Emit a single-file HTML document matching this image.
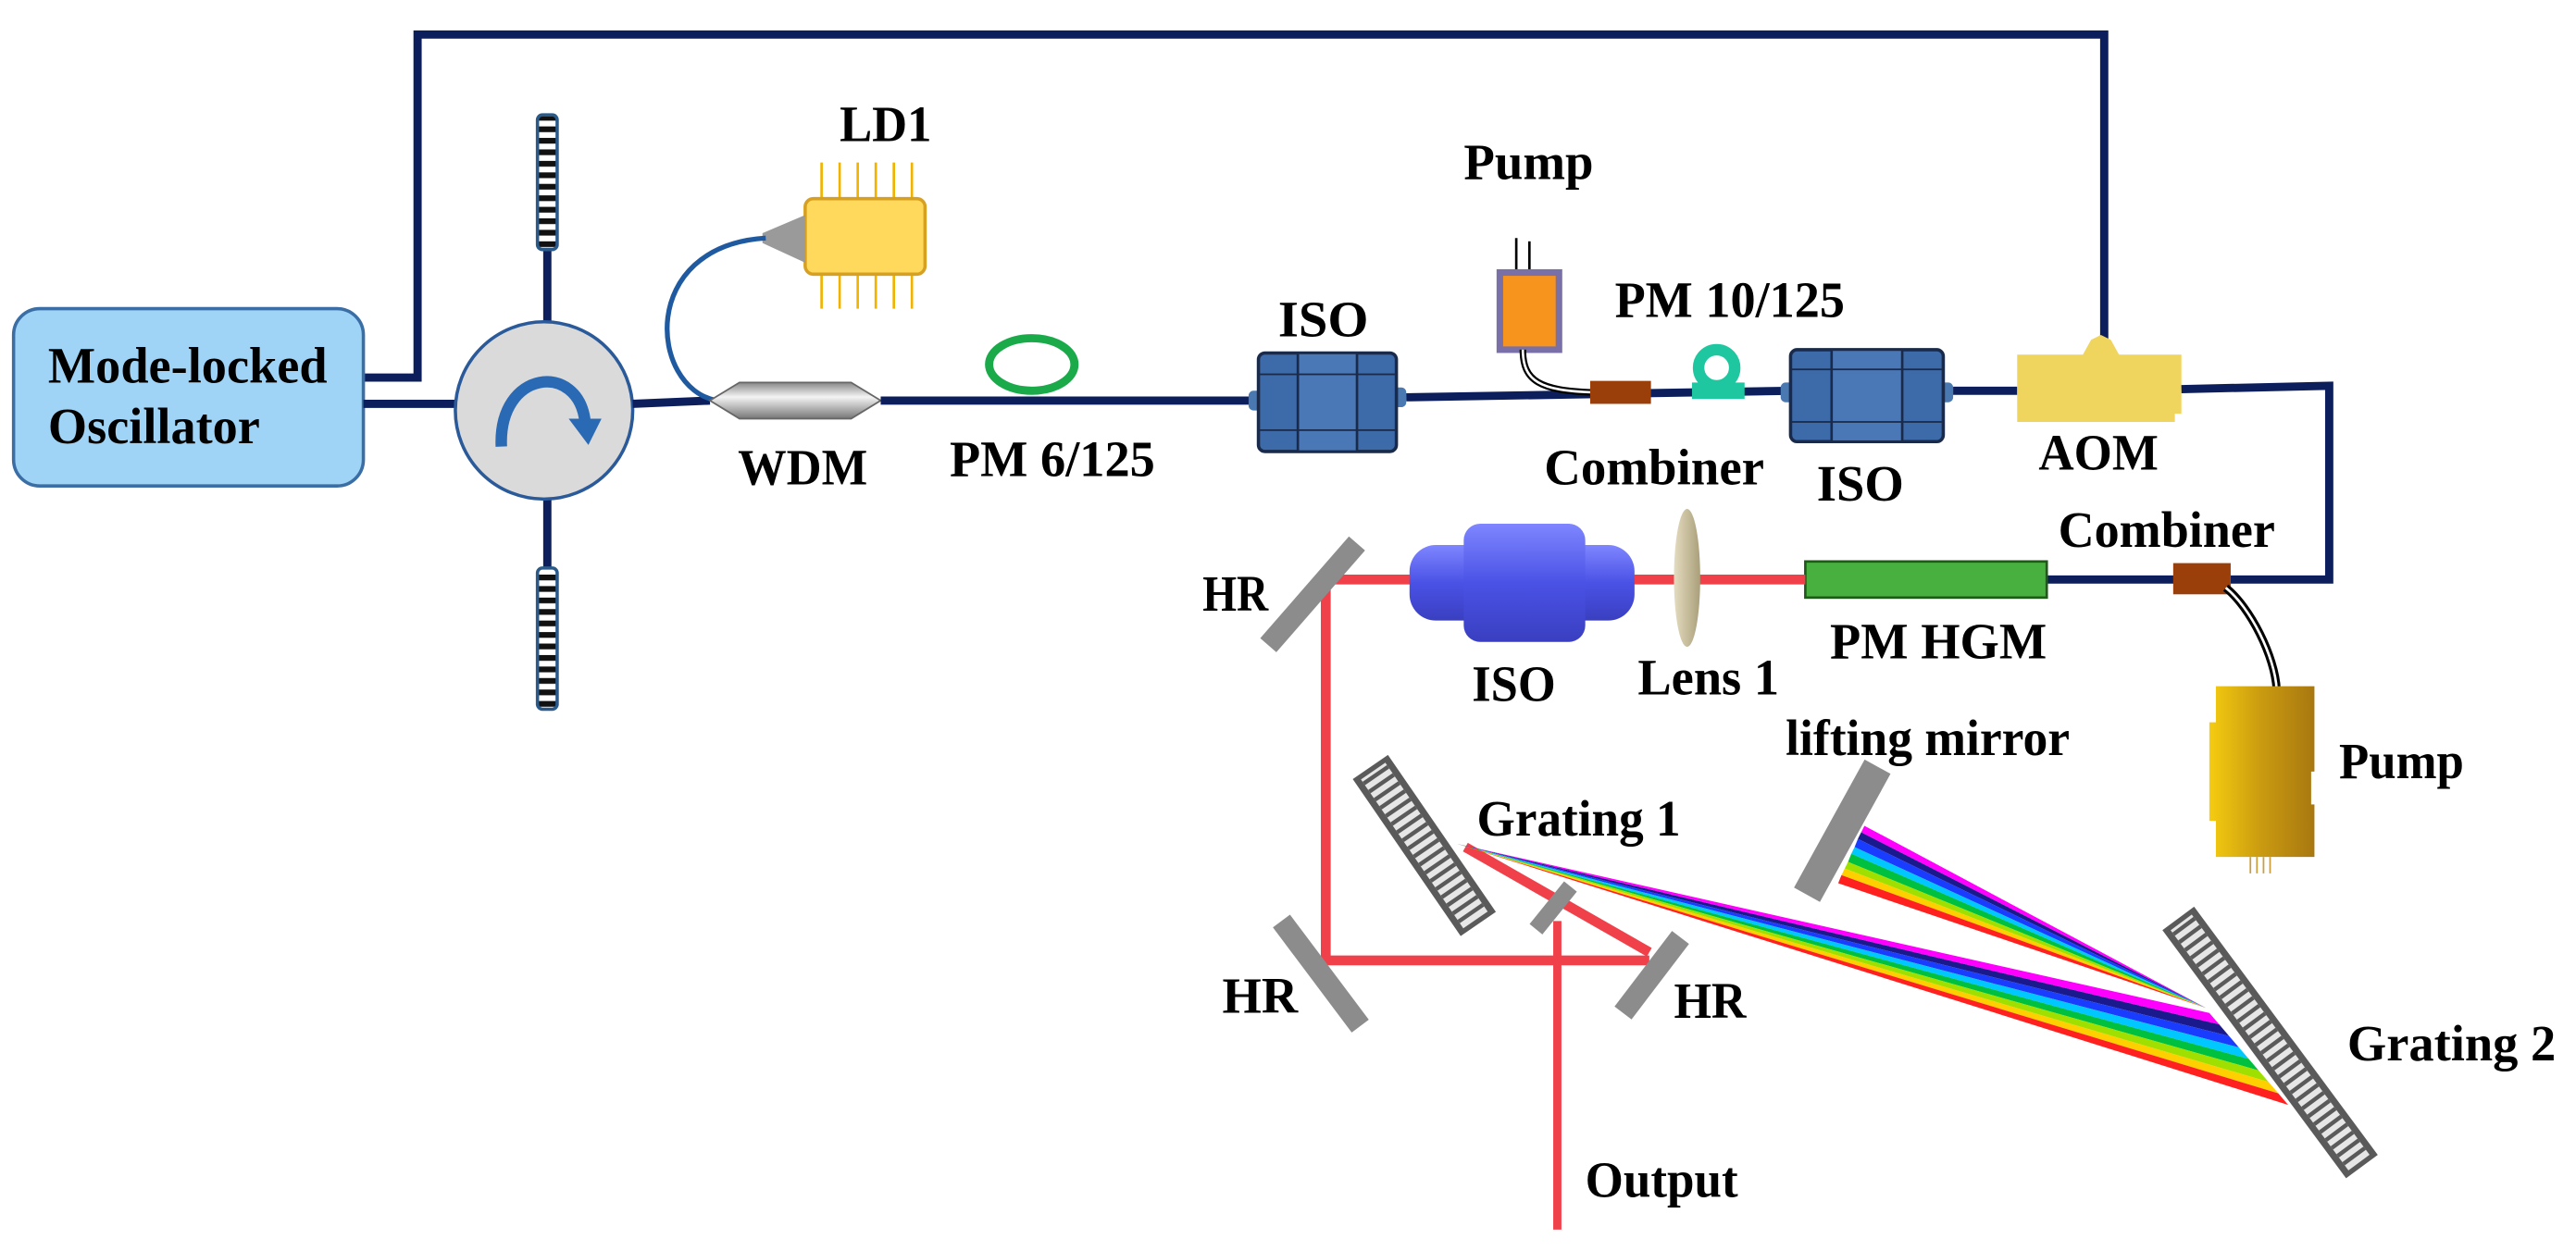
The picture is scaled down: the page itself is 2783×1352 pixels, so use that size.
<!DOCTYPE html>
<html><head><meta charset="utf-8"><style>
html,body{margin:0;padding:0;background:#fff}
svg{display:block}
svg text{font-family:"Liberation Serif","DejaVu Serif",serif;font-weight:bold;font-size:31px;fill:#000}
</style></head><body>
<svg width="2783" height="1352" viewBox="0 0 1568 762" xmlns="http://www.w3.org/2000/svg" font-family="Liberation Serif, DejaVu Serif, serif" font-weight="bold">
<defs>
<linearGradient id="wdm" x1="0" y1="0" x2="0" y2="1"><stop offset="0" stop-color="#888"/><stop offset=".4" stop-color="#f4f4f4"/><stop offset="1" stop-color="#777"/></linearGradient>
<linearGradient id="iso" x1="0" y1="0" x2="0" y2="1"><stop offset="0" stop-color="#7f86ff"/><stop offset=".5" stop-color="#4a52e6"/><stop offset="1" stop-color="#3a3fc0"/></linearGradient>
<linearGradient id="pump" x1="0" y1="0" x2="1" y2="0"><stop offset="0" stop-color="#f5cc10"/><stop offset=".5" stop-color="#c99a10"/><stop offset="1" stop-color="#a87810"/></linearGradient>
<linearGradient id="lens" x1="0" y1="0" x2="1" y2="0"><stop offset="0" stop-color="#e5dcc0"/><stop offset="1" stop-color="#a99f7a"/></linearGradient>
<pattern id="fbg" width="12" height="7" patternUnits="userSpaceOnUse"><rect width="12" height="7" fill="#fff"/><rect width="12" height="3.5" fill="#111"/></pattern>
</defs>

<path d="M221,230 H254 V21 H1281 V212" fill="none" stroke="#0c1f5c" stroke-width="5"/>
<rect x="8" y="188" width="213" height="108" rx="16" fill="#9fd4f6" stroke="#3a6ea5" stroke-width="2"/>
<text x="29" y="233" textLength="170" lengthAdjust="spacingAndGlyphs">Mode-locked</text>
<text x="29" y="270" textLength="129" lengthAdjust="spacingAndGlyphs">Oscillator</text>
<line x1="221" y1="246" x2="278" y2="246" stroke="#0c1f5c" stroke-width="5"/>
<line x1="333" y1="150" x2="333" y2="200" stroke="#0c1f5c" stroke-width="5"/>
<line x1="333" y1="300" x2="333" y2="348" stroke="#0c1f5c" stroke-width="5"/>
<rect x="327" y="70" width="12" height="82" rx="3" fill="url(#fbg)" stroke="#2a5a8a" stroke-width="2"/>
<rect x="327" y="346" width="12" height="86" rx="3" fill="url(#fbg)" stroke="#2a5a8a" stroke-width="2"/>
<circle cx="331" cy="250" r="54" fill="#dadada" stroke="#2a5a9a" stroke-width="2"/>
<path d="M305,272 C303,225 352,220 356,257" fill="none" stroke="#2a6ab5" stroke-width="7"/>
<polygon points="346,255 366,255 358,271" fill="#2a6ab5"/>
<line x1="385" y1="246" x2="432" y2="244" stroke="#0c1f5c" stroke-width="5"/>
<g stroke="#f0b400" stroke-width="1.5">
<line x1="500" y1="99" x2="500" y2="188"/><line x1="511" y1="99" x2="511" y2="188"/><line x1="522" y1="99" x2="522" y2="188"/><line x1="533" y1="99" x2="533" y2="188"/><line x1="544" y1="99" x2="544" y2="188"/><line x1="555" y1="99" x2="555" y2="188"/></g>
<rect x="490" y="121" width="73" height="46" rx="5" fill="#ffd95c" stroke="#d8a020" stroke-width="2"/>
<polygon points="490,131 490,160 464,148 464,142" fill="#9a9a9a"/>
<path d="M436,244 C395,236 388,150 466,145" fill="none" stroke="#1f5aa0" stroke-width="3"/>
<text x="511" y="86" textLength="56" lengthAdjust="spacingAndGlyphs">LD1</text>
<polygon points="432,244 450,233 518,233 536,244 518,255 450,255" fill="url(#wdm)" stroke="#666" stroke-width="1"/>
<text x="449" y="295" textLength="79" lengthAdjust="spacingAndGlyphs">WDM</text>
<path d="M536,244 H762" stroke="#0c1f5c" stroke-width="5" fill="none"/>
<ellipse cx="628" cy="222" rx="26" ry="16" fill="none" stroke="#1aaa4a" stroke-width="5"/>
<text x="578" y="290" textLength="125" lengthAdjust="spacingAndGlyphs">PM 6/125</text>
<g>
<rect x="760" y="238" width="8" height="12" rx="3" fill="#4a78b0"/>
<rect x="848" y="236" width="8" height="12" rx="3" fill="#4a78b0"/>
<rect x="766" y="215" width="84" height="60" rx="4" fill="#3d6aa8" stroke="#1a2a4a" stroke-width="2"/>
<rect x="790" y="215" width="36" height="60" fill="#4a78b6" stroke="#1a2a4a" stroke-width="1.5"/>
<rect x="766" y="228" width="84" height="34" fill="none" stroke="#1a2a4a" stroke-width="1"/>
</g>
<text x="778" y="205" textLength="55" lengthAdjust="spacingAndGlyphs">ISO</text>
<path d="M856,242 L1092,238" stroke="#0c1f5c" stroke-width="5" fill="none"/>
<line x1="923" y1="145" x2="923" y2="166" stroke="#000" stroke-width="1.5"/>
<line x1="931" y1="147" x2="931" y2="166" stroke="#000" stroke-width="1.5"/>
<rect x="913" y="166" width="36" height="47" fill="#f7941d" stroke="#7a70a8" stroke-width="4"/>
<path d="M927,213 C927,232 937,238 970,239" fill="none" stroke="#000" stroke-width="4"/>
<path d="M927,213 C927,232 937,238 970,239" fill="none" stroke="#fff" stroke-width="1.5"/>
<text x="891" y="109" textLength="79" lengthAdjust="spacingAndGlyphs">Pump</text>
<rect x="968" y="232" width="37" height="14" fill="#9b3f0a"/>
<text x="940" y="295" textLength="134" lengthAdjust="spacingAndGlyphs">Combiner</text>
<rect x="1030" y="233" width="32" height="10" fill="#1fc7a0"/>
<circle cx="1045" cy="224" r="11" fill="none" stroke="#1fc7a0" stroke-width="7"/>
<text x="983" y="193" textLength="140" lengthAdjust="spacingAndGlyphs">PM 10/125</text>
<g>
<rect x="1084" y="233" width="8" height="12" rx="3" fill="#4a78b0"/>
<rect x="1181" y="233" width="8" height="12" rx="3" fill="#4a78b0"/>
<rect x="1090" y="213" width="93" height="56" rx="4" fill="#3d6aa8" stroke="#1a2a4a" stroke-width="2"/>
<rect x="1115" y="213" width="43" height="56" fill="#4a78b6" stroke="#1a2a4a" stroke-width="1.5"/>
<rect x="1090" y="225" width="93" height="32" fill="none" stroke="#1a2a4a" stroke-width="1"/>
</g>
<text x="1106" y="305" textLength="53" lengthAdjust="spacingAndGlyphs">ISO</text>
<line x1="1189" y1="238" x2="1228" y2="238" stroke="#0c1f5c" stroke-width="5"/>
<polygon points="1228,216 1268,216 1273,207 1279,204 1285,207 1290,216 1328,216 1328,252 1324,252 1324,257 1228,257" fill="#efd55e"/>
<text x="1241" y="286" textLength="73" lengthAdjust="spacingAndGlyphs">AOM</text>
<path d="M1328,237 L1418,235 V353 H1358" fill="none" stroke="#0c1f5c" stroke-width="5"/>
<path d="M1246,353 H1324" stroke="#0c1f5c" stroke-width="5"/>
<rect x="1323" y="343" width="35" height="19" fill="#9b3f0a"/>
<text x="1253" y="333" textLength="132" lengthAdjust="spacingAndGlyphs">Combiner</text>
<path d="M1355,358 C1370,370 1385,400 1386,420" fill="none" stroke="#000" stroke-width="5"/>
<path d="M1355,358 C1370,370 1385,400 1386,420" fill="none" stroke="#fff" stroke-width="1.5"/>
<g stroke="#c9a040" stroke-width="1"><line x1="1370" y1="522" x2="1370" y2="532"/><line x1="1374" y1="522" x2="1374" y2="532"/><line x1="1378" y1="522" x2="1378" y2="532"/><line x1="1382" y1="522" x2="1382" y2="532"/></g>
<path d="M1349,418 H1409 V470 H1407 V490 H1409 V522 H1349 V500 H1345 V440 H1349 Z" fill="url(#pump)"/>
<text x="1424" y="474" textLength="76" lengthAdjust="spacingAndGlyphs">Pump</text>
<rect x="1099" y="342" width="147" height="22" fill="#48b03e" stroke="#1f5a1a" stroke-width="1.5"/>
<text x="1114" y="401" textLength="132" lengthAdjust="spacingAndGlyphs">PM HGM</text>
<g stroke="#f0414b" stroke-width="6" fill="none">
<path d="M807,353 H1099"/>
<path d="M807,353 V585 H1004"/>
<path d="M1004,580 L892,516"/>
<path d="M948,561 V749" stroke-width="5"/>
</g>
<ellipse cx="1027" cy="352" rx="8" ry="42" fill="url(#lens)"/>
<text x="997" y="423" textLength="86" lengthAdjust="spacingAndGlyphs">Lens 1</text>
<rect x="858" y="332" width="137" height="46" rx="16" fill="url(#iso)"/>
<rect x="891" y="319" width="74" height="72" rx="10" fill="url(#iso)"/>
<text x="896" y="427" textLength="51" lengthAdjust="spacingAndGlyphs">ISO</text>
<g stroke="#8c8c8c" stroke-width="13">
<line x1="826" y1="331" x2="772" y2="393"/>
<line x1="780" y1="561" x2="828" y2="625"/>
<line x1="1023" y1="571" x2="988" y2="617"/>
<line x1="956" y1="540" x2="935" y2="566" stroke-width="10"/>
<line x1="1143" y1="467" x2="1100" y2="545" stroke-width="18"/>
</g>
<text x="732" y="372" textLength="40" lengthAdjust="spacingAndGlyphs">HR</text>
<text x="744" y="617" textLength="46" lengthAdjust="spacingAndGlyphs">HR</text>
<text x="1019" y="620" textLength="44" lengthAdjust="spacingAndGlyphs">HR</text>
<g>
<polygon points="887,514 1345,617 1351,624" fill="#ff00ff"/>
<polygon points="887,514 1351,624 1357,631" fill="#1a1a8c"/>
<polygon points="887,514 1357,631 1363,638" fill="#1a3cff"/>
<polygon points="887,514 1363,638 1369,645" fill="#00c8ff"/>
<polygon points="887,514 1369,645 1375,652" fill="#00c040"/>
<polygon points="887,514 1375,652 1381,659" fill="#a0e000"/>
<polygon points="887,514 1381,659 1387,666" fill="#ffd000"/>
<polygon points="887,514 1387,666 1393,673" fill="#ff2020"/>
</g>
<g>
<polygon points="1343,614 1135,503 1133,507" fill="#ff00ff"/>
<polygon points="1343,614 1133,507 1131,511" fill="#1a1a8c"/>
<polygon points="1343,614 1131,511 1129,516" fill="#1a3cff"/>
<polygon points="1343,614 1129,516 1127,520" fill="#00c8ff"/>
<polygon points="1343,614 1127,520 1125,525" fill="#00c040"/>
<polygon points="1343,614 1125,525 1123,529" fill="#a0e000"/>
<polygon points="1343,614 1123,529 1121,533" fill="#ffd000"/>
<polygon points="1343,614 1121,533 1119,538" fill="#ff2020"/>
</g>
<g transform="translate(867,515) rotate(55.5)"><rect x="-58" y="-13" width="116" height="26" fill="#5a5a5a"/><rect x="-55" y="-9" width="110" height="18" fill="#e6e6e6"/><path d="M-52,-9 V9 M-46,-9 V9 M-40,-9 V9 M-34,-9 V9 M-28,-9 V9 M-22,-9 V9 M-16,-9 V9 M-10,-9 V9 M-4,-9 V9 M2,-9 V9 M8,-9 V9 M14,-9 V9 M20,-9 V9 M26,-9 V9 M32,-9 V9 M38,-9 V9 M44,-9 V9 M50,-9 V9" stroke="#5a5a5a" stroke-width="2.5"/></g>
<g transform="translate(1382,635) rotate(53.5)"><rect x="-94" y="-12" width="188" height="24" fill="#5a5a5a"/><rect x="-91" y="-8" width="182" height="16" fill="#e6e6e6"/><path d="M-88,-8 V8 M-82,-8 V8 M-76,-8 V8 M-70,-8 V8 M-64,-8 V8 M-58,-8 V8 M-52,-8 V8 M-46,-8 V8 M-40,-8 V8 M-34,-8 V8 M-28,-8 V8 M-22,-8 V8 M-16,-8 V8 M-10,-8 V8 M-4,-8 V8 M2,-8 V8 M8,-8 V8 M14,-8 V8 M20,-8 V8 M26,-8 V8 M32,-8 V8 M38,-8 V8 M44,-8 V8 M50,-8 V8 M56,-8 V8 M62,-8 V8 M68,-8 V8 M74,-8 V8 M80,-8 V8 M86,-8 V8" stroke="#5a5a5a" stroke-width="2.5"/></g>
<text x="899" y="509" textLength="124" lengthAdjust="spacingAndGlyphs">Grating 1</text>
<text x="1429" y="646" textLength="127" lengthAdjust="spacingAndGlyphs">Grating 2</text>
<text x="1087" y="460" textLength="173" lengthAdjust="spacingAndGlyphs">lifting mirror</text>
<text x="965" y="729" textLength="93" lengthAdjust="spacingAndGlyphs">Output</text>
</svg>
</body></html>
